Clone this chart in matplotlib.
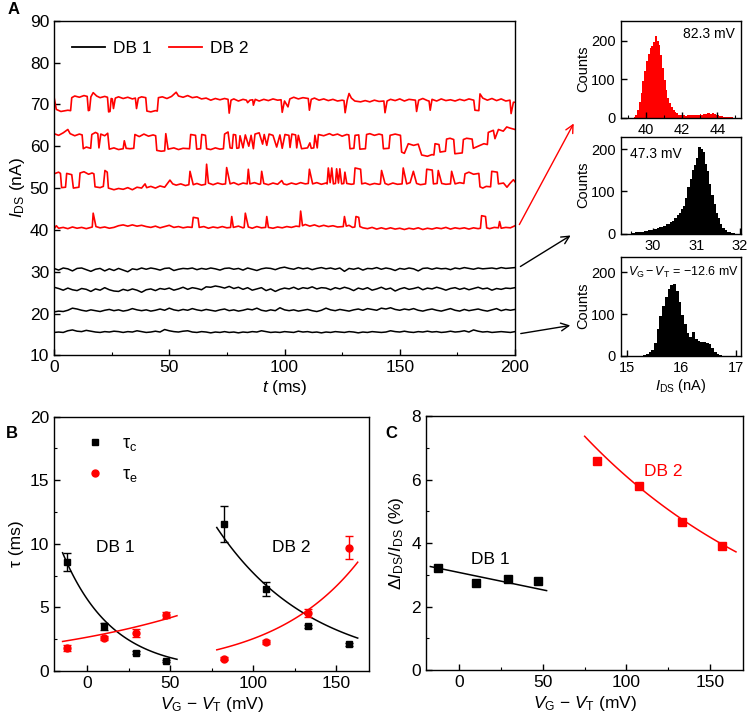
import numpy as np
import matplotlib
matplotlib.use("Agg")
from matplotlib import pyplot as plt
from matplotlib.patches import FancyArrowPatch
from matplotlib.ticker import MultipleLocator

plt.rcParams['font.family'] = ['Liberation Sans', 'DejaVu Sans']
plt.rcParams['mathtext.fontset'] = 'custom'
plt.rcParams['mathtext.rm'] = 'Liberation Sans'
plt.rcParams['mathtext.it'] = 'Liberation Sans:italic'
plt.rcParams['xtick.direction'] = 'in'
plt.rcParams['ytick.direction'] = 'in'

# ---------------- data: panel A, DB 2 traces (time ms, current nA)
r1 = [(0, 71.8), (1, 68.8), (3, 68.3), (6, 68.6), (7.2, 68.5), (7.7, 71.6), (9, 72.0), (11, 71.7), (13, 72.1),
      (14.4, 71.9), (14.9, 68.5), (15.4, 68.6), (16, 71.8), (17, 72.8), (18.5, 72.0), (20, 71.6), (22, 71.9),
      (23.2, 71.7), (23.7, 68.2), (24.3, 68.3), (24.8, 71.4), (25.3, 71.3), (25.8, 69.0), (26.6, 71.5),
      (28, 71.8), (30, 71.4), (32, 71.7), (34, 71.3), (35.3, 71.5), (35.8, 69.0), (36.6, 71.5), (38, 71.8),
      (39.8, 71.6), (40.3, 68.4), (42, 68.2), (44, 68.5), (44.8, 68.4), (45.3, 71.6), (47, 71.8), (49, 71.4),
      (51, 71.9), (53, 72.9), (54, 72.0), (56, 71.7), (58, 72.1), (60, 71.6), (62, 71.8), (64, 71.3),
      (66, 71.5), (68, 71.0), (70, 71.4), (72, 71.1), (74, 71.4), (75.5, 71.2), (76, 67.9), (76.8, 71.0),
      (78, 71.3), (80, 70.8), (82, 71.2), (83.5, 71.0), (84, 70.4), (85, 71.0), (86.2, 71.1), (86.5, 69.8),
      (87.3, 71.2), (89, 70.8), (91, 71.2), (93, 70.9), (95, 71.3), (97, 71.0), (98.5, 71.1), (99, 68.1),
      (100, 70.8), (101.5, 69.4), (102.3, 71.3), (104, 71.7), (106, 71.3), (108, 71.6), (110.3, 71.4),
      (110.8, 68.6), (111.6, 71.2), (113, 71.5), (115, 71.0), (117, 71.3), (119, 70.9), (121, 71.2),
      (123, 70.8), (125, 71.0), (125.8, 70.9), (126.3, 68.0), (127.2, 71.0), (128, 72.6), (129, 71.5),
      (130.5, 70.8), (133, 70.6), (135, 70.9), (137, 70.6), (139, 71.0), (141, 70.7), (143.1, 70.8),
      (143.6, 68.0), (144.5, 70.8), (146, 71.2), (148, 70.9), (150, 71.3), (152, 70.8), (154, 71.2),
      (156.8, 71.0), (157.3, 68.3), (158.2, 71.0), (160, 71.4), (162, 70.9), (162.7, 70.8), (163.2, 68.6),
      (164, 71.2), (166, 70.8), (168, 71.3), (170, 70.9), (172, 71.1), (174, 70.8), (176, 71.2), (178, 70.9),
      (180, 71.3), (182.1, 71.0), (182.6, 68.6), (184.3, 68.5), (184.8, 72.5), (186, 71.5), (188, 71.0),
      (190, 71.4), (192, 70.9), (194, 71.3), (196, 70.8), (197.8, 71.0), (198.3, 67.8), (199.3, 70.5),
      (200, 70.5)]

r2 = [(0, 63.0), (2, 62.6), (4, 63.2), (6, 64.0), (7, 63.0), (9, 62.5), (11, 62.9), (12.2, 62.7), (12.7, 59.4),
      (14, 59.8), (15.9, 59.5), (16.4, 62.8), (18, 63.3), (19.0, 63.0), (19.5, 59.6), (20.3, 62.9), (22, 62.5),
      (23.3, 63.1), (24, 59.3), (26, 59.6), (28, 59.2), (30, 59.4), (30.5, 61.3), (31.3, 59.5), (33, 59.4),
      (34.6, 59.5), (35.1, 62.8), (37, 62.3), (39, 62.9), (41, 62.4), (43, 62.7), (44.1, 62.5), (44.6, 59.0),
      (46.5, 58.8), (48.0, 58.9), (48.5, 63.0), (49.5, 59.3), (52, 59.6), (54, 59.2), (56, 59.5), (58.8, 59.4),
      (59.3, 62.8), (61.4, 62.6), (61.9, 59.3), (63.6, 59.4), (64.1, 62.8), (65.7, 62.6), (66.2, 59.4),
      (68, 59.2), (70, 59.6), (72, 59.3), (73.5, 59.4), (74, 62.9), (75.5, 63.4), (76.4, 59.6), (77.3, 59.5),
      (77.8, 62.8), (78.8, 62.7), (79.3, 59.5), (80.2, 59.6), (80.7, 62.5), (82, 59.6), (83, 62.7),
      (84.5, 60.0), (85.5, 62.6), (86.5, 59.4), (87.2, 62.9), (89, 63.2), (90.5, 60.5), (91.2, 62.8),
      (92.3, 60.2), (93.3, 62.9), (95, 62.6), (96.6, 59.8), (98, 62.7), (99, 59.5), (100.2, 62.8),
      (101.9, 62.6), (102.4, 59.7), (103.2, 62.9), (104.8, 62.7), (105.3, 59.6), (106, 62.6), (107.4, 59.4),
      (110, 59.6), (111, 60.8), (111.6, 59.5), (112.7, 59.6), (113.2, 62.6), (114.2, 59.6), (114.7, 62.8),
      (117, 62.5), (119.5, 63.0), (121, 62.6), (123, 62.9), (125, 62.4), (127, 62.8), (127.9, 62.7),
      (128.4, 59.4), (130.1, 59.5), (130.6, 62.6), (132.2, 62.7), (132.7, 59.3), (135.1, 59.4), (135.6, 62.8),
      (137, 63.0), (139, 62.6), (141, 62.9), (142.4, 62.7), (142.9, 59.4), (145.3, 59.5), (145.8, 62.6),
      (148, 62.9), (150.3, 62.6), (150.8, 58.6), (152, 58.3), (153.7, 60.6), (156, 60.2), (158, 60.5),
      (159.5, 57.9), (162, 57.6), (164, 58.0), (164.8, 57.9), (165.3, 60.6), (167, 60.4), (167.5, 58.6),
      (169.8, 58.8), (170.3, 61.7), (171.8, 61.9), (173.4, 61.6), (173.9, 58.2), (177.1, 58.4), (177.6, 61.6),
      (179, 61.9), (181.4, 61.7), (181.9, 59.5), (184.8, 60.2), (186.5, 60.6), (188.0, 60.4), (188.4, 63.3),
      (190.6, 63.8), (191.3, 61.8), (192.8, 64.0), (194.9, 63.6), (196.4, 64.6), (198, 64.3), (200, 64.0)]

r3 = [(0, 53.4), (2, 53.8), (2.8, 53.5), (3.3, 50.1), (5.0, 50.2), (5.5, 53.5), (7.7, 53.2), (8.4, 50.0),
      (10.8, 50.2), (11.3, 53.6), (13, 53.9), (15, 53.3), (16.5, 53.6), (17.3, 53.4), (17.8, 50.3), (20, 50.1),
      (21.4, 50.4), (22.1, 54.2), (23.1, 53.8), (23.6, 50.0), (26, 49.6), (28, 49.9), (30, 49.7), (32, 50.1),
      (34, 49.6), (36, 50.2), (38, 50.0), (39.5, 51.0), (40.2, 50.1), (42, 50.4), (44, 50.0), (46, 50.5),
      (48, 50.2), (50.3, 51.9), (51.5, 51.0), (53, 50.7), (55, 51.0), (57, 50.6), (58.5, 50.8), (59, 54.0),
      (60.4, 50.8), (62, 51.1), (64, 50.7), (65.7, 50.9), (66.2, 55.7), (67, 51.2), (69, 50.8), (71, 51.2),
      (73, 50.9), (74.4, 51.0), (74.9, 54.9), (76.4, 51.0), (78, 51.3), (80, 50.8), (82, 51.2), (83.8, 51.0),
      (84.3, 54.5), (85, 51.0), (87, 51.3), (89, 50.9), (89.6, 51.0), (90.1, 54.0), (91, 51.1), (93, 50.8),
      (95, 51.2), (97, 50.9), (98.8, 51.8), (99.6, 51.0), (101, 50.8), (103, 51.2), (105, 50.9), (107, 51.3),
      (109, 51.0), (110.3, 51.1), (110.8, 54.5), (112.2, 51.0), (114, 51.3), (116, 50.9), (118, 51.2),
      (118.5, 51.0), (119, 54.8), (119.8, 51.3), (120.5, 54.8), (121.2, 51.0), (122.1, 51.1), (122.6, 54.6),
      (123.4, 51.2), (124, 54.6), (124.8, 51.0), (125.7, 51.1), (126.2, 53.8), (127, 51.1), (129, 50.9),
      (130.1, 51.0), (130.6, 54.8), (133.0, 54.5), (133.5, 51.0), (135, 51.2), (137, 50.8), (139, 51.1),
      (141, 50.9), (141.6, 51.0), (142.1, 54.2), (143.6, 51.1), (145, 50.8), (147, 51.2), (149, 50.9),
      (151.0, 51.0), (151.5, 54.8), (153, 51.0), (154.5, 51.3), (155.9, 54.0), (157.3, 51.1), (159, 50.8),
      (161.2, 51.0), (161.7, 54.5), (164.1, 54.3), (164.6, 51.0), (166.2, 51.1), (166.7, 54.2), (168.2, 51.1),
      (170, 50.9), (172.0, 51.0), (172.5, 54.0), (174, 51.0), (176, 51.3), (177.8, 51.1), (178.3, 53.4),
      (180, 53.8), (182, 53.3), (184.3, 53.5), (184.8, 50.3), (186, 50.0), (187.5, 50.4), (189.4, 50.3),
      (189.9, 54.0), (192.3, 53.8), (192.8, 51.0), (195, 51.2), (196.5, 50.2), (197.8, 51.1), (199.3, 52.0),
      (200, 51.5)]

r4 = [(0, 40.2), (1, 41.0), (2, 40.4), (4, 40.6), (6, 40.3), (8, 40.7), (10, 40.4), (12, 40.6), (14, 40.3),
      (16, 40.6), (16.6, 40.7), (17.0, 44.0), (18.2, 40.8), (20, 40.5), (22, 40.7), (24, 40.4), (26, 40.6),
      (28, 41.0), (30, 41.2), (32, 40.9), (34, 41.2), (36, 40.9), (38, 41.1), (40, 40.8), (42, 40.6),
      (44, 40.9), (46, 40.5), (48, 40.8), (50, 41.1), (52, 40.6), (54, 40.8), (56, 40.5), (58, 40.7),
      (59.9, 40.6), (60.4, 43.0), (62.5, 42.8), (63, 40.6), (65, 40.8), (67, 40.4), (69, 40.7), (71, 40.5),
      (73, 40.8), (75, 40.5), (76.6, 40.6), (77.1, 43.2), (77.8, 40.6), (80, 40.9), (82, 40.5), (82.5, 40.6),
      (83, 44.0), (84.3, 40.7), (86, 40.4), (88, 40.8), (90, 40.5), (91.8, 40.6), (92.3, 43.2), (93, 40.6),
      (95, 40.4), (97, 40.7), (99, 40.5), (101, 40.8), (103, 40.6), (105, 40.9), (106.5, 40.8), (107, 44.5),
      (107.8, 41.0), (109, 41.3), (111, 40.9), (113, 41.2), (115, 40.8), (117, 41.1), (119, 40.8), (121, 41.0),
      (123, 40.7), (125.5, 40.8), (126, 43.2), (126.8, 40.9), (128, 41.1), (129.5, 40.6), (130.5, 40.7),
      (131, 43.2), (132.2, 43.0), (132.7, 40.8), (134, 40.5), (136, 40.3), (138, 40.6), (140, 40.2),
      (142, 40.5), (144, 40.2), (146, 40.5), (148, 40.2), (150, 40.4), (152, 40.1), (154, 40.4), (156, 40.2),
      (158, 40.5), (160, 40.1), (162, 40.4), (164, 40.2), (166, 40.5), (168, 40.3), (170, 40.6), (172, 40.2),
      (174, 40.5), (176, 40.3), (178, 40.5), (180, 40.2), (182, 40.5), (184, 40.3), (185.0, 40.4),
      (185.5, 43.4), (187.2, 43.2), (187.7, 40.5), (189, 40.3), (191, 40.6), (192.8, 40.5), (193.3, 42.0),
      (194, 40.4), (196, 40.6), (198, 40.5), (200, 41.0)]

# DB 1 traces, sampled every 2 ms from 0 to 200 ms
b1 = [30.8, 30.4, 30.9, 30.7, 30.2, 30.8, 30.9, 30.5, 30.1, 30.6, 30.8, 30.2, 30.7, 30.3, 30.8, 30.4, 30.0,
      30.7, 30.5, 30.9, 30.6, 30.9, 30.7, 30.4, 30.8, 30.9, 30.3, 30.6, 30.8, 30.7, 30.9, 30.5, 30.8, 30.6,
      30.9, 30.7, 30.4, 30.8, 30.9, 30.6, 30.8, 30.4, 30.9, 30.6, 30.3, 30.7, 30.9, 30.8, 30.5, 30.9, 31.1,
      30.8, 30.6, 31.0, 30.7, 30.9, 30.5, 30.8, 31.0, 30.7, 30.9, 30.6, 30.9, 30.1, 30.8, 30.6, 30.9, 30.4,
      30.8, 30.7, 31.0, 30.6, 30.9, 30.7, 30.3, 30.8, 30.6, 30.9, 30.7, 30.2, 30.8, 30.9, 30.6, 30.9, 30.7,
      30.8, 30.5, 30.9, 30.7, 31.0, 30.8, 30.6, 30.9, 30.7, 30.8, 30.9, 30.7, 31.0, 30.8, 30.9, 31.0]
b2 = [26.3, 26.0, 25.6, 26.1, 25.7, 25.5, 26.0, 25.8, 25.3, 25.9, 25.6, 26.2, 25.7, 25.4, 25.3, 25.8, 25.5,
      25.9, 25.6, 25.1, 25.7, 25.9, 25.5, 26.0, 25.8, 26.1, 25.6, 25.9, 26.3, 25.8, 26.2, 26.0, 25.7, 26.4,
      26.3, 26.6, 26.4, 26.1, 26.5, 26.0, 26.3, 25.8, 26.2, 25.6, 25.9, 26.2, 25.5, 25.9, 25.3, 25.8, 26.1,
      25.9, 26.3, 25.8, 26.2, 26.0, 26.4, 25.9, 26.2, 26.1, 25.7, 26.2, 25.9, 26.3, 26.0, 25.5, 26.1, 25.8,
      26.2, 25.6, 25.9, 26.3, 25.8, 26.1, 25.4, 25.9, 26.2, 25.8, 26.0, 26.3, 25.7, 26.1, 25.9, 26.3, 26.0,
      25.6, 26.0, 26.2, 25.8, 26.1, 25.7, 26.0, 26.3, 25.9, 26.1, 25.6, 26.0, 25.8, 26.1, 26.0, 26.2]
b3 = [20.4, 20.6, 20.5, 20.8, 21.3, 21.1, 20.8, 20.6, 20.9, 20.7, 20.5, 20.8, 21.0, 20.7, 20.9, 20.6, 20.8,
      21.2, 20.9, 20.7, 20.9, 20.6, 20.8, 21.1, 20.8, 21.3, 20.9, 20.7, 21.0, 20.8, 21.2, 20.9, 20.7, 21.0,
      20.8, 20.6, 20.9, 21.1, 20.7, 20.9, 20.6, 20.8, 21.1, 20.9, 21.3, 20.8, 20.6, 20.9, 20.7, 21.4, 20.9,
      20.7, 20.9, 20.6, 20.8, 21.0, 20.7, 20.5, 20.8, 21.3, 20.9, 20.7, 21.0, 20.8, 20.6, 20.9, 21.1, 20.8,
      21.2, 21.0, 20.8, 21.3, 21.1, 21.4, 21.0, 20.8, 21.1, 20.9, 21.2, 20.8, 20.6, 20.9, 21.1, 20.8, 20.6,
      20.9, 21.2, 20.8, 20.6, 21.0, 20.7, 20.9, 21.1, 20.8, 20.6, 20.9, 21.2, 20.7, 21.0, 20.8, 21.0]
b4 = [15.5, 15.6, 15.5, 15.9, 16.1, 15.8, 15.7, 16.0, 15.8, 15.6, 15.5, 15.7, 15.6, 15.8, 15.7, 15.5, 15.7,
      15.6, 15.9, 15.7, 15.5, 15.6, 15.8, 15.6, 16.2, 15.9, 15.7, 15.6, 15.8, 15.9, 15.6, 15.5, 15.7, 15.6,
      15.4, 15.6, 15.5, 15.7, 15.5, 15.6, 15.4, 15.6, 15.5, 15.7, 15.6, 15.9, 15.7, 15.5, 15.6, 15.5, 15.7,
      15.6, 15.5, 15.8, 15.6, 15.7, 15.5, 15.6, 15.4, 15.6, 15.5, 15.7, 15.6, 15.5, 15.7, 15.6, 15.4, 15.6,
      15.5, 15.7, 15.6, 15.5, 15.6, 15.9, 15.7, 15.6, 15.8, 15.6, 15.5, 15.7, 15.6, 15.8, 15.6, 15.7, 15.5,
      15.6, 15.8, 15.6, 15.7, 15.9, 15.6, 16.1, 15.8, 15.6, 15.7, 15.5, 15.6, 15.7, 15.6, 15.5, 15.7]

# histograms: first bin start (nA), bin width (nA), counts
h1_start, h1_w = 39.2, 0.1
h1_counts = [0, 2, 8, 20, 40, 65, 95, 122, 148, 165, 180, 186, 196, 212, 200, 188, 162, 128, 98, 72, 52, 38, 28,
             20, 14, 11, 8, 7, 6, 6, 5, 6, 7, 6, 7, 8, 7, 8, 9, 8, 10, 9, 11, 12, 10, 11, 9, 8, 6, 5, 4, 3, 3,
             2, 2, 3, 1]
h2_start, h2_w = 29.5, 0.05
h2_counts = [1, 2, 3, 3, 4, 5, 6, 7, 8, 9, 11, 12, 13, 16, 17, 18, 22, 24, 28, 31, 36, 45, 50, 58, 66, 85, 110,
             130, 150, 162, 178, 205, 200, 192, 165, 148, 118, 92, 70, 48, 36, 24, 14, 9, 5, 3, 2, 1, 0]
h3_start, h3_w = 15.3, 0.05
h3_counts = [1, 3, 8, 14, 30, 65, 95, 120, 142, 160, 170, 172, 155, 128, 98, 75, 55, 45, 58, 40, 36, 34, 33,
             31, 28, 18, 8, 3, 1, 0]

# ---------------- panel B: tau vs VG-VT
vg_db1 = [-12.6, 10.0, 29.0, 47.3]
vg_db2 = [82.3, 107.5, 133.0, 157.5]
tc_db1 = [8.6, 3.5, 1.45, 0.8]
tc_db1_err = [0.7, 0.3, 0.1, 0.1]
te_db1 = [1.8, 2.6, 3.0, 4.4]
te_db1_err = [0.25, 0.15, 0.3, 0.2]
tc_db2 = [11.55, 6.45, 3.5, 2.1]
tc_db2_err = [1.4, 0.55, 0.15, 0.1]
te_db2 = [0.97, 2.25, 4.55, 9.7]
te_db2_err = [0.1, 0.15, 0.3, 0.9]
# exponential fits tau = A*exp(x/x0), (A, x0)
tc_db1_fit = (5.62, -29.8)
te_db1_fit = (2.66, 110.0)
tc_db2_fit = (43.6, -57.7)
te_db2_fit = (0.37, 51.9)

# ---------------- panel C: dI/I vs VG-VT
di_db1 = [3.21, 2.74, 2.86, 2.81]
di_db2 = [6.58, 5.81, 4.65, 3.92]
di_db1_fit = (3.07, -0.0109)   # intercept, slope
di_db2_fit = (12.95, -132.8)   # A, x0

fig = plt.figure(figsize=(7.5, 7.2), dpi=100)


def style(ax, fs=12.5):
    for s in ax.spines.values():
        s.set_linewidth(1.0)
    ax.tick_params(which='major', length=4, width=1, labelsize=fs)
    ax.tick_params(which='minor', length=2.5, width=0.8)


# ---- panel A main
axA = fig.add_axes([0.072, 0.5063, 0.6147, 0.465])
for tr in [r1, r2, r3, r4]:
    t, v = zip(*tr)
    axA.plot(t, v, color='#ff0000', lw=1.2)
for tr in [b1, b2, b3, b4]:
    axA.plot(np.linspace(0, 200, len(tr)), tr, color='black', lw=1.1)
axA.plot([], [], color='black', lw=1.3, label='DB 1')
axA.plot([], [], color='#ff0000', lw=1.3, label='DB 2')
axA.legend(loc='upper left', bbox_to_anchor=(0.005, 0.985), ncol=2, frameon=False, fontsize=12.5,
           handlelength=1.9, columnspacing=1.0, handletextpad=0.45)
axA.set_xlim(0, 200)
axA.set_ylim(10, 90)
axA.xaxis.set_major_locator(MultipleLocator(50))
axA.xaxis.set_minor_locator(MultipleLocator(25))
axA.yaxis.set_major_locator(MultipleLocator(10))
style(axA)
axA.set_xlabel(r'$t$ (ms)', fontsize=12.5, labelpad=2)
axA.set_ylabel(r'$I_{\mathrm{DS}}$ (nA)', fontsize=12.5, labelpad=2)

# ---- histograms
hist_pos = [[0.8276, 0.8365, 0.16, 0.1347], [0.8276, 0.6754, 0.16, 0.1347], [0.8276, 0.5060, 0.16, 0.1375]]
hists = [(h1_start, h1_w, h1_counts, '#ff0000', (38.58, 45.31), (0, 252), 2, 1),
         (h2_start, h2_w, h2_counts, 'black', (29.27, 32.02), (0, 229), 1, 0.5),
         (h3_start, h3_w, h3_counts, 'black', (14.89, 17.09), (0, 238), 1, 0.5)]
hax = []
for pos, (st, w, c, col, xl, yl, maj, mnr) in zip(hist_pos, hists):
    ax = fig.add_axes(pos)
    x = st + w * np.arange(len(c))
    ax.bar(x, c, width=w, align='edge', color=col, linewidth=0)
    ax.set_xlim(*xl)
    ax.set_ylim(*yl)
    ax.xaxis.set_major_locator(MultipleLocator(maj))
    ax.xaxis.set_minor_locator(MultipleLocator(mnr))
    ax.yaxis.set_major_locator(MultipleLocator(100))
    style(ax, fs=10.5)
    ax.tick_params(which='both', top=False, right=False)
    ax.set_ylabel('Counts', fontsize=10.5, labelpad=1)
    hax.append(ax)
hax[0].text(0.95, 0.86, '82.3 mV', transform=hax[0].transAxes, ha='right', va='center', fontsize=10)
hax[1].text(0.08, 0.82, '47.3 mV', transform=hax[1].transAxes, ha='left', va='center', fontsize=10)
hax[2].text(0.52, 0.84, r'$V_{\mathrm{G}} - V_{\mathrm{T}}$ = −12.6 mV', transform=hax[2].transAxes,
            ha='center', va='center', fontsize=9)
hax[2].set_xlabel(r'$I_{\mathrm{DS}}$ (nA)', fontsize=10.5, labelpad=2)

# arrows from traces to histograms
for p0, p1, col in [((0.6907, 0.6847), (0.7667, 0.8319), '#ff0000'),
                    ((0.6907, 0.6278), (0.764, 0.675), 'black'),
                    ((0.6907, 0.5361), (0.764, 0.5486), 'black')]:
    fig.add_artist(FancyArrowPatch(p0, p1, transform=fig.transFigure, arrowstyle='->',
                                   mutation_scale=14, color=col, lw=1.0))

# ---- panel B
axB = fig.add_axes([0.0724, 0.0681, 0.42, 0.3532])
for xs, fit in [(np.linspace(-15, 54, 100), tc_db1_fit), (np.linspace(78, 163, 100), tc_db2_fit)]:
    axB.plot(xs, fit[0] * np.exp(xs / fit[1]), color='black', lw=1.1)
for xs, fit in [(np.linspace(-15, 54, 100), te_db1_fit), (np.linspace(78, 163, 100), te_db2_fit)]:
    axB.plot(xs, fit[0] * np.exp(xs / fit[1]), color='#ff0000', lw=1.1)
axB.errorbar(vg_db1 + vg_db2, tc_db1 + tc_db2, yerr=tc_db1_err + tc_db2_err, fmt='s', color='black',
             ms=5, capsize=3, elinewidth=1, capthick=1, label=r'τ$_{\mathrm{c}}$')
axB.errorbar(vg_db1 + vg_db2, te_db1 + te_db2, yerr=te_db1_err + te_db2_err, fmt='o', color='#ff0000',
             ms=5, capsize=3, elinewidth=1, capthick=1, label=r'τ$_{\mathrm{e}}$')
h, l = axB.get_legend_handles_labels()
axB.legend([hh[0] for hh in h], l, loc='upper left', bbox_to_anchor=(0.05, 0.99), frameon=False,
           fontsize=13, handlelength=1.0, handletextpad=1.0, labelspacing=0.7)
axB.text(17, 9.7, 'DB 1', fontsize=12.5, ha='center', va='center')
axB.text(123, 9.7, 'DB 2', fontsize=12.5, ha='center', va='center')
axB.set_xlim(-20, 170)
axB.set_ylim(0, 20)
axB.xaxis.set_major_locator(MultipleLocator(50))
axB.xaxis.set_minor_locator(MultipleLocator(25))
axB.yaxis.set_major_locator(MultipleLocator(5))
axB.yaxis.set_minor_locator(MultipleLocator(2.5))
style(axB)
axB.tick_params(which='both', top=False, right=False)
axB.set_xlabel(r'$V_{\mathrm{G}}$ − $V_{\mathrm{T}}$ (mV)', fontsize=12.5, labelpad=3)
axB.set_ylabel('τ (ms)', fontsize=12.5, labelpad=4)

# ---- panel C
axC = fig.add_axes([0.568, 0.0694, 0.4231, 0.3528])
xs1 = np.linspace(-17.4, 52.2, 50)
axC.plot(xs1, di_db1_fit[0] + di_db1_fit[1] * xs1, color='black', lw=1.1)
xs2 = np.linspace(75, 165.6, 100)
axC.plot(xs2, di_db2_fit[0] * np.exp(xs2 / di_db2_fit[1]), color='#ff0000', lw=1.1)
axC.plot(vg_db1, di_db1, 's', color='black', ms=5.5)
axC.plot(vg_db2, di_db2, 's', color='#ff0000', ms=5.5)
axC.text(18.6, 3.47, 'DB 1', fontsize=12.5, ha='center', va='center')
axC.text(122, 6.24, 'DB 2', fontsize=12.5, ha='center', va='center', color='#ff0000')
axC.set_xlim(-20, 170)
axC.set_ylim(0, 8)
axC.xaxis.set_major_locator(MultipleLocator(50))
axC.xaxis.set_minor_locator(MultipleLocator(25))
axC.yaxis.set_major_locator(MultipleLocator(2))
axC.yaxis.set_minor_locator(MultipleLocator(1))
style(axC)
axC.tick_params(which='both', top=False, right=False)
axC.set_xlabel(r'$V_{\mathrm{G}}$ − $V_{\mathrm{T}}$ (mV)', fontsize=12.5, labelpad=3)
axC.set_ylabel(r'Δ$I_{\mathrm{DS}}$/$I_{\mathrm{DS}}$ (%)', fontsize=12.5, labelpad=4)

# panel letters
fig.text(14 / 750, 1 - 9 / 720, 'A', fontsize=12, fontweight='bold', ha='center', va='center')
fig.text(12 / 750, 1 - 433 / 720, 'B', fontsize=12, fontweight='bold', ha='center', va='center')
fig.text(391 / 750, 1 - 433 / 720, 'C', fontsize=12, fontweight='bold', ha='center', va='center')

fig.savefig('out.png', dpi=100)
